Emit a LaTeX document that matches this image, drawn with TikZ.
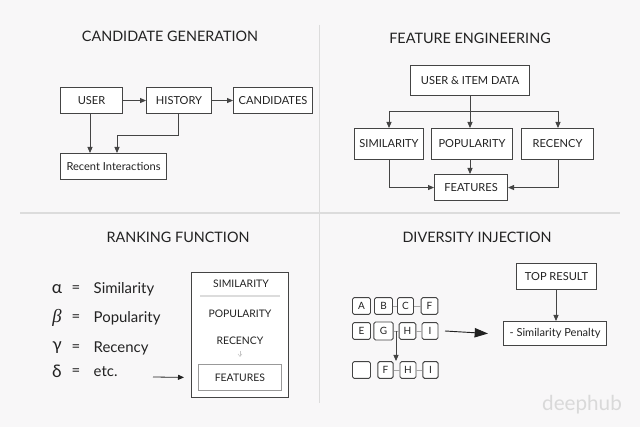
\documentclass[tikz,border=0pt]{standalone}
\usepackage{fontspec}
\setmainfont{Lato}
\newfontfamily\libserif{Liberation Serif}
\usetikzlibrary{arrows.meta}
\definecolor{bg}{HTML}{F8F7F8}
\definecolor{ink}{HTML}{222222}
\definecolor{edge}{HTML}{444444}
\definecolor{divider}{HTML}{DCDCDC}
\begin{document}
\begin{tikzpicture}[x=0.75pt,y=-0.75pt,
  box/.style={draw=edge,line width=0.8pt,fill=white,text=ink,font=\fontsize{8.3}{9}\selectfont,inner sep=0pt,anchor=north west},
  cell/.style={draw=edge,line width=0.7pt,fill=white,rounded corners=1.2pt,text=ink,font=\fontsize{7.5}{8}\selectfont,minimum width=13.5pt,minimum height=12.5pt,inner sep=0pt},
  title/.style={text=ink,font=\fontsize{10.8}{12}\selectfont},
  conn/.style={draw=edge,line width=0.7pt},
  arr/.style={conn,-{Triangle[length=4.5pt,width=3.8pt]}},
  tick/.style={draw=gray!70,line width=0.5pt},
  txt/.style={text=ink,font=\fontsize{11.2}{12}\selectfont,anchor=west},
  greek/.style={text=ink,font=\fontsize{13}{14}\selectfont},
]
\fill[bg] (0,0) rectangle (640,427);
\useasboundingbox (0,0) rectangle (640,427);
% dividers
\draw[divider,line width=0.8pt] (319.5,25) -- (319.5,403);
\draw[divider,line width=0.8pt] (20,213) -- (620,213);
% titles
\node[title] (t1) at (170,36) {CANDIDATE GENERATION};
\node[title] (t2) at (470,38) {FEATURE ENGINEERING};
\node[title] (t3) at (178,237) {RANKING FUNCTION};
\node[title] (t4) at (477,237) {DIVERSITY INJECTION};
% ---------- Candidate generation
\node[box,minimum width=46.5pt,minimum height=19.5pt] (user) at (60,87) {USER};
\node[box,minimum width=48.75pt,minimum height=19.5pt] (hist) at (146,87) {HISTORY};
\node[box,minimum width=59.25pt,minimum height=19.5pt] (cand) at (233,87) {CANDIDATES};
\node[box,minimum width=79.5pt,minimum height=19.5pt] (recent) at (60,153) {Recent Interactions};
\draw[arr] (user) -- (hist);
\draw[arr] (hist) -- (cand);
\draw[arr] (user.south -| 90,0) -- (recent.north -| 90,0);
\draw[arr] (hist.south -| 178,0) |- (117,135) -- (recent.north -| 117,0);
% ---------- Feature engineering
\node[box,minimum width=89.25pt,minimum height=22.5pt] (data) at (410,65) {USER \& ITEM DATA};
\node[box,minimum width=51.75pt,minimum height=23.25pt] (sim) at (354,128) {SIMILARITY};
\node[box,minimum width=60.75pt,minimum height=23.25pt] (pop) at (431,128) {POPULARITY};
\node[box,minimum width=54pt,minimum height=23.25pt] (rec) at (521,128) {RECENCY};
\node[box,minimum width=54.75pt,minimum height=19.5pt] (feat) at (434,174) {FEATURES};
\coordinate (split) at (470,111);
\draw[conn] (data.south -| split) -- (split);
\draw[conn] (389,111) -- (558,111);
\draw[arr] (389,111) -- (sim.north -| 389,0);
\draw[arr] (split) -- (pop.north -| split);
\draw[arr] (558,111) -- (rec.north -| 558,0);
\draw[arr] (sim.south -| 389,0) |- (feat.west);
\draw[arr] (pop.south -| 470,0) -- (feat.north -| 470,0);
\draw[arr] (rec.south -| 558,0) |- (feat.east);
% ---------- Ranking function
\node[greek] (ga) at (57,289) {α};
\node[greek,font=\libserif\itshape\fontsize{14}{15}\selectfont] (gb) at (57,318) {β};
\node[greek] (gc) at (57,348) {γ};
\node[greek] (gd) at (57,371) {δ};
\node[txt] (ea) at (67,289) {=};
\node[txt] (eb) at (67,318) {=};
\node[txt] (ec) at (67,348) {=};
\node[txt] (ed) at (67,372) {=};
\node[txt] (wa) at (89,289) {Similarity};
\node[txt] (wb) at (89,318) {Popularity};
\node[txt] (wc) at (89,348) {Recency};
\node[txt] (wd) at (89,372) {etc.};
\node[draw=edge,line width=0.8pt,fill=white,minimum width=72.75pt,minimum height=93.75pt,anchor=north west,inner sep=0pt] (panel) at (191,272) {};
\node[text=ink,font=\fontsize{7.8}{9}\selectfont] (ps) at (241,284) {SIMILARITY};
\draw[divider,line width=0.8pt] (200,296) -- (280,296);
\node[text=ink,font=\fontsize{7.8}{9}\selectfont] (pp) at (240,314) {POPULARITY};
\node[text=ink,font=\fontsize{7.8}{9}\selectfont] (pr) at (240,341) {RECENCY};
\node[draw=gray!80,line width=0.6pt,fill=white,text=ink,font=\fontsize{7.8}{9}\selectfont,minimum width=62.25pt,minimum height=19.5pt,anchor=north west,inner sep=0pt] (pf) at (198,364) {FEATURES};
\draw[gray!45,line width=0.4pt,-{Straight Barb[length=2pt,width=3pt]}] (240,351) -- (240,357);
\coordinate (rstart) at (153,377);
\draw[line width=0.6pt,draw=ink,-{Triangle[length=4.5pt,width=3.8pt]}] (rstart) -- (pf.west -| 184,0);
% ---------- Diversity injection
\node[box,minimum width=60pt,minimum height=19.5pt] (top) at (516,263) {TOP RESULT};
\node[box,minimum width=77.25pt,minimum height=18pt] (pen) at (503,321) {- Similarity Penalty};
\draw[arr] (top.south -| 556,0) -- (pen.north -| 556,0);
% grid
\node[cell] (a1) at (361.5,306) {A};
\node[cell] (b1) at (383.5,306) {B};
\node[cell,minimum width=12pt] (c1) at (405.5,306) {C};
\node[cell,minimum width=12.5pt] (f1) at (429.5,306) {F};
\node[cell] (e2) at (361.5,331) {E};
\node[cell,minimum width=14.5pt,minimum height=13.5pt] (g2) at (383.5,331) {G};
\node[cell,minimum width=12.5pt] (h2) at (407.5,331) {H};
\node[cell,minimum width=12pt] (i2) at (430,331) {I};
\node[cell] (x3) at (361.5,370) {};
\node[cell,minimum width=11.5pt] (f3) at (385.5,370) {F};
\node[cell,minimum width=12pt] (h3) at (408,370) {H};
\node[cell,minimum width=11.5pt] (i3) at (430.5,370) {I};
\draw[tick] (b1) -- (c1); \draw[tick] (c1) -- (f1);
\draw[tick] (g2) -- (h2); \draw[tick] (h2) -- (i2);
\draw[tick] (f3) -- (h3); \draw[tick] (h3) -- (i3);
\draw[conn,-{Triangle[length=4.5pt,width=3.8pt]}] (396,331) -- (396,361);
\draw[line width=0.7pt,draw=ink,-{Triangle[length=10pt,width=7pt]}] (445,331) -- (pen.west -| 488,0);
% watermark
\node[text=gray!30,font=\fontsize{15.5}{16}\selectfont] (wm) at (582,405) {deephub};
\end{tikzpicture}
\end{document}
